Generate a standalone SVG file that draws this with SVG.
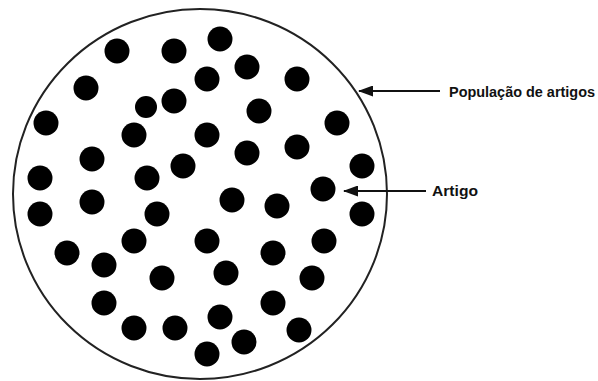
<svg xmlns="http://www.w3.org/2000/svg" width="598" height="381" viewBox="0 0 598 381">
<defs>
<style>
.dot{fill:#000}
.lbl{font-family:"Liberation Sans",Arial,sans-serif;font-weight:bold;font-size:14px;fill:#111}
.con{stroke:#111;stroke-width:2;fill:none}
</style>
<marker id="ah" markerWidth="15" markerHeight="11" refX="14" refY="5.5" orient="auto" markerUnits="userSpaceOnUse" viewBox="0 0 15 11">
<path d="M0,0 L15,5.5 L0,11 Z" fill="#111"/>
</marker>
</defs>
<rect width="598" height="381" fill="#fff"/>
<g id="populacao">
<ellipse cx="200" cy="194" rx="187" ry="185" fill="none" stroke="#222" stroke-width="2"/>
</g>
<g id="artigos">
<circle class="dot" cx="117" cy="51" r="12.5"/>
<circle class="dot" cx="174" cy="51" r="12.5"/>
<circle class="dot" cx="220" cy="39" r="12.5"/>
<circle class="dot" cx="86" cy="88" r="12.5"/>
<circle class="dot" cx="146" cy="107" r="11"/>
<circle class="dot" cx="174" cy="101" r="12.5"/>
<circle class="dot" cx="207" cy="79" r="12.5"/>
<circle class="dot" cx="247" cy="67" r="12.5"/>
<circle class="dot" cx="297" cy="79" r="12.5"/>
<circle class="dot" cx="46" cy="123" r="12.5"/>
<circle class="dot" cx="134" cy="135" r="12.5"/>
<circle class="dot" cx="207" cy="135" r="12.5"/>
<circle class="dot" cx="259" cy="111" r="12.5"/>
<circle class="dot" cx="337" cy="123" r="12.5"/>
<circle class="dot" cx="92" cy="159" r="12.5"/>
<circle class="dot" cx="183" cy="166" r="12.5"/>
<circle class="dot" cx="147" cy="178" r="12.5"/>
<circle class="dot" cx="247" cy="153" r="12.5"/>
<circle class="dot" cx="297" cy="147" r="12.5"/>
<circle class="dot" cx="362" cy="166" r="12.5"/>
<circle class="dot" cx="40" cy="178" r="12.5"/>
<circle class="dot" cx="40" cy="214" r="12.5"/>
<circle class="dot" cx="92" cy="202" r="12.5"/>
<circle class="dot" cx="157" cy="214" r="12.5"/>
<circle class="dot" cx="232" cy="200" r="12.5"/>
<circle class="dot" cx="277" cy="206" r="12.5"/>
<circle class="dot" cx="323" cy="189" r="12.5"/>
<circle class="dot" cx="362" cy="214" r="12.5"/>
<circle class="dot" cx="134" cy="241" r="12.5"/>
<circle class="dot" cx="67" cy="253" r="12.5"/>
<circle class="dot" cx="207" cy="241" r="12.5"/>
<circle class="dot" cx="324" cy="241" r="12.5"/>
<circle class="dot" cx="104" cy="265" r="12.5"/>
<circle class="dot" cx="162" cy="278" r="12.5"/>
<circle class="dot" cx="226" cy="273" r="12.5"/>
<circle class="dot" cx="273" cy="253" r="12.5"/>
<circle class="dot" cx="312" cy="278" r="12.5"/>
<circle class="dot" cx="104" cy="303" r="12.5"/>
<circle class="dot" cx="273" cy="303" r="12.5"/>
<circle class="dot" cx="134" cy="328" r="12.5"/>
<circle class="dot" cx="175" cy="328" r="12.5"/>
<circle class="dot" cx="220" cy="317" r="12.5"/>
<circle class="dot" cx="299" cy="330" r="12.5"/>
<circle class="dot" cx="244" cy="342" r="12.5"/>
<circle class="dot" cx="207" cy="354" r="12.5"/>
</g>
<g id="connectors">
<line class="con" x1="440" y1="91" x2="359" y2="91" marker-end="url(#ah)"/>
<line class="con" x1="426" y1="191" x2="344" y2="191" marker-end="url(#ah)"/>
</g>
<g id="label-populacao">
<text class="lbl" x="449" y="97" textLength="146" lengthAdjust="spacingAndGlyphs">População de artigos</text>
</g>
<g id="label-artigo">
<text class="lbl" x="432" y="196" textLength="46" lengthAdjust="spacingAndGlyphs">Artigo</text>
</g>
</svg>
